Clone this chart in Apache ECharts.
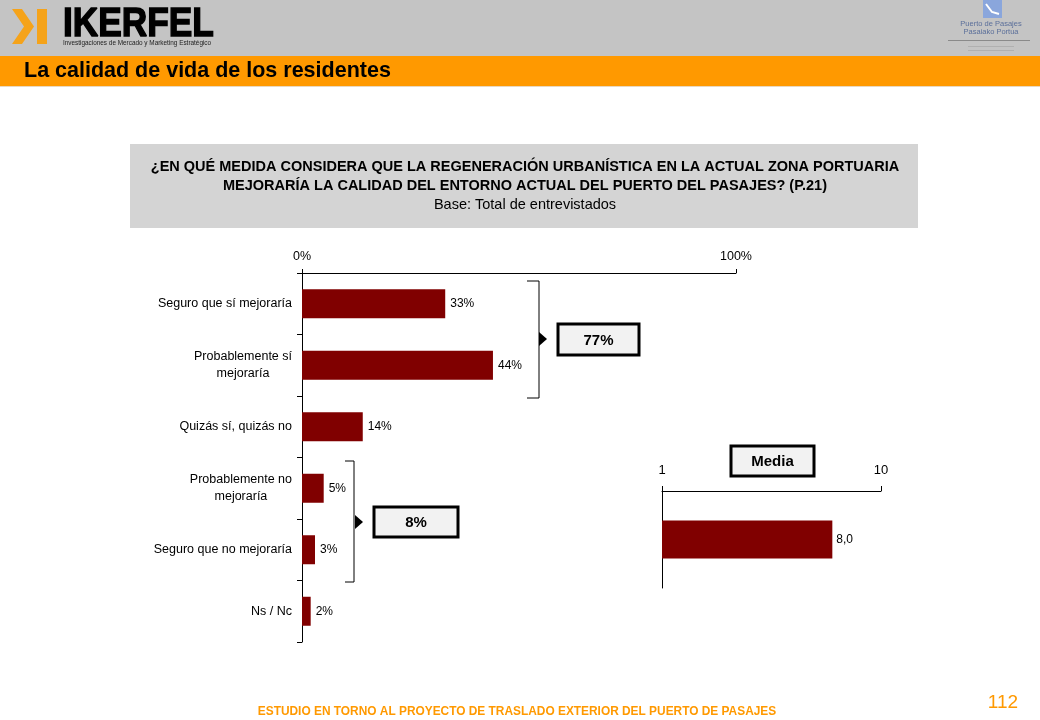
<!DOCTYPE html>
<html><head><meta charset="utf-8">
<script src="https://cdn.jsdelivr.net/npm/echarts@6/dist/echarts.min.js"></script>
<style>html,body{margin:0;padding:0;background:#fff}#c{width:1040px;height:720px}</style>
</head><body><div id="c"></div>
<script>
// ---- data ----
const categories = ['Seguro que sí mejoraría', 'Probablemente sí\nmejoraría', 'Quizás sí, quizás no', 'Probablemente no\nmejoraría', 'Seguro que no mejoraría', 'Ns / Nc'];
const values = [33, 44, 14, 5, 3, 2];
const pctTicks = [0, 100];
const mediaCategory = ['Media'];
const mediaValues = [8.0];
const mediaTicks = [1, 10];
const groupTotals = ['77%', '8%'];
const titleText = 'La calidad de vida de los residentes';
const questionLines = ['¿EN QUÉ MEDIDA CONSIDERA QUE LA REGENERACIÓN URBANÍSTICA EN LA ACTUAL ZONA PORTUARIA', 'MEJORARÍA LA CALIDAD DEL ENTORNO ACTUAL DEL PUERTO DEL PASAJES? (P.21)'];
const baseText = 'Base: Total de entrevistados';
const footerText = 'ESTUDIO EN TORNO AL PROYECTO DE TRASLADO EXTERIOR DEL PUERTO DE PASAJES';
const pageNumber = '112';

const FONT = '"Liberation Sans", Arial, sans-serif';
const BAR = '#800000';
const ORANGE = '#ff9900';

const chart = echarts.init(document.getElementById('c'), null, {renderer: 'canvas'});

function bracket(x, y1, y2, w) {
  return {type: 'polyline', shape: {points: [[x - w, y1], [x, y1], [x, y2], [x - w, y2]]}, style: {stroke: '#000', lineWidth: 1, fill: null}, z: 10};
}
function arrow(x, y) {
  return {type: 'polygon', shape: {points: [[x, y - 7], [x + 8, y], [x, y + 7]]}, style: {fill: '#000'}, z: 10};
}
function box(x, y, w, h, text) {
  return [
    {type: 'rect', shape: {x: x, y: y, width: w, height: h}, style: {fill: '#f2f2f2', stroke: '#000', lineWidth: 3}, z: 10},
    {type: 'text', x: x + w / 2, y: y + h / 2 + 1, style: {text: text, font: 'bold 15px ' + FONT, fill: '#000', align: 'center', verticalAlign: 'middle'}, z: 11}
  ];
}

const graphics = [
  // header
  {type: 'rect', shape: {x: 0, y: 0, width: 1040, height: 56}, style: {fill: '#c4c4c4'}, z: -1},
  {type: 'rect', shape: {x: 0, y: 56, width: 1040, height: 30}, style: {fill: ORANGE}, z: -1},
  {type: 'rect', shape: {x: 0, y: 86, width: 1040, height: 1}, style: {fill: '#e8d8c0'}, z: -1},
  {type: 'polygon', shape: {points: [[12, 9], [22, 9], [34, 26.5], [22, 44], [12, 44], [24, 26.5]]}, style: {fill: '#f5a31a'}},
  {type: 'rect', shape: {x: 37, y: 9, width: 10, height: 35}, style: {fill: '#f5a31a'}},
  {type: 'text', x: 63, y: 45, scaleX: 0.86, originX: 0, originY: 0, style: {text: 'IKERFEL', font: 'bold 41px ' + FONT, fill: '#000', stroke: '#000', lineWidth: 1.5, align: 'left', verticalAlign: 'bottom'}},
  {type: 'text', x: 63, y: 43.5, style: {text: 'Investigaciones de Mercado y Marketing Estratégico', font: '6.4px ' + FONT, fill: '#222', align: 'left', verticalAlign: 'middle'}},
  // right logo
  {type: 'rect', shape: {x: 983, y: 0, width: 19, height: 18}, style: {fill: '#8aa6dc'}},
  {type: 'polyline', shape: {points: [[986, 4], [992, 12], [999, 14]]}, style: {stroke: '#fff', lineWidth: 2, fill: null}},
  {type: 'text', x: 991, y: 24, style: {text: 'Puerto de Pasajes', font: '7.5px ' + FONT, fill: '#5b6f9a', align: 'center', verticalAlign: 'middle'}},
  {type: 'text', x: 991, y: 32, style: {text: 'Pasaiako Portua', font: '7.5px ' + FONT, fill: '#5b6f9a', align: 'center', verticalAlign: 'middle'}},
  {type: 'rect', shape: {x: 948, y: 40, width: 82, height: 1}, style: {fill: '#8a8a8a'}},
  {type: 'rect', shape: {x: 968, y: 46, width: 46, height: 1}, style: {fill: '#b0b0b0'}},
  {type: 'rect', shape: {x: 968, y: 50, width: 46, height: 1}, style: {fill: '#b0b0b0'}},
  // title
  {type: 'text', x: 24, y: 71, style: {text: titleText, font: 'bold 21.5px ' + FONT, fill: '#000', align: 'left', verticalAlign: 'middle'}},
  // question box
  {type: 'rect', shape: {x: 130, y: 144, width: 788, height: 84}, style: {fill: '#d4d4d4'}, z: -1},
  {type: 'text', x: 525, y: 167, style: {text: questionLines[0], font: 'bold 14.5px ' + FONT, fill: '#000', align: 'center', verticalAlign: 'middle'}},
  {type: 'text', x: 525, y: 186, style: {text: questionLines[1], font: 'bold 14.5px ' + FONT, fill: '#000', align: 'center', verticalAlign: 'middle'}},
  {type: 'text', x: 525, y: 205, style: {text: baseText, font: '14.5px ' + FONT, fill: '#000', align: 'center', verticalAlign: 'middle'}},
  // brackets and totals
  bracket(539, 281, 398, 12),
  arrow(539, 339),
  ...box(558, 324, 81, 31, groupTotals[0]),
  bracket(354, 461, 582, 9),
  arrow(355, 522),
  ...box(374, 507, 84, 30, groupTotals[1]),
  ...box(731, 446, 83, 30, mediaCategory[0]),
  // footer
  {type: 'text', x: 517, y: 712, style: {text: footerText, font: 'bold 11.9px ' + FONT, fill: ORANGE, align: 'center', verticalAlign: 'middle'}},
  {type: 'text', x: 1003, y: 703, style: {text: pageNumber, font: '19px ' + FONT, fill: ORANGE, align: 'center', verticalAlign: 'middle'}}
];

const option = {
  backgroundColor: '#fff',
  animation: false,
  textStyle: {fontFamily: FONT},
  grid: [
    {left: 302, top: 273, width: 434, height: 369, containLabel: false},
    {left: 662, top: 491, width: 219, height: 97, containLabel: false}
  ],
  xAxis: [
    {
      gridIndex: 0, type: 'value', position: 'top', min: pctTicks[0], max: pctTicks[1], interval: 100,
      axisLine: {show: true, lineStyle: {color: '#000', width: 1}},
      axisTick: {show: true, length: 4, lineStyle: {color: '#000'}},
      axisLabel: {formatter: '{value}%', color: '#000', fontSize: 12.5, margin: 10},
      splitLine: {show: false}
    },
    {
      gridIndex: 1, type: 'value', position: 'top', min: mediaTicks[0], max: mediaTicks[1],
      axisLine: {show: true, lineStyle: {color: '#000', width: 1}},
      axisTick: {show: true, length: 5, lineStyle: {color: '#000'}, customValues: mediaTicks},
      axisLabel: {color: '#000', fontSize: 13, margin: 14, customValues: mediaTicks},
      splitLine: {show: false}
    }
  ],
  yAxis: [
    {
      gridIndex: 0, type: 'category', inverse: true, data: categories,
      axisLine: {show: true, lineStyle: {color: '#000', width: 1}},
      axisTick: {show: true, length: 5, lineStyle: {color: '#000'}},
      axisLabel: {
        color: '#000', fontSize: 12.5, margin: 10, lineHeight: 17,
        formatter: function (v) { return v.split('\n').map(function (s) { return '{c|' + s + '}'; }).join('\n'); },
        rich: {c: {align: 'center', fontSize: 12.5, lineHeight: 17, color: '#000'}}
      }
    },
    {
      gridIndex: 1, type: 'category', data: mediaCategory,
      axisLine: {show: true, lineStyle: {color: '#000', width: 1}},
      axisTick: {show: false},
      axisLabel: {show: false}
    }
  ],
  series: [
    {
      type: 'bar', xAxisIndex: 0, yAxisIndex: 0, data: values, barWidth: 29,
      itemStyle: {color: BAR},
      label: {show: true, position: 'right', distance: 5, formatter: '{c}%', color: '#000', fontSize: 12}
    },
    {
      type: 'bar', xAxisIndex: 1, yAxisIndex: 1, data: mediaValues, barWidth: 38,
      itemStyle: {color: BAR},
      label: {show: true, position: 'right', distance: 4, color: '#000', fontSize: 12,
        formatter: function (p) { return p.value.toFixed(1).replace('.', ','); }}
    }
  ],
  graphic: {elements: graphics}
};
chart.setOption(option);
</script>
</body></html>
